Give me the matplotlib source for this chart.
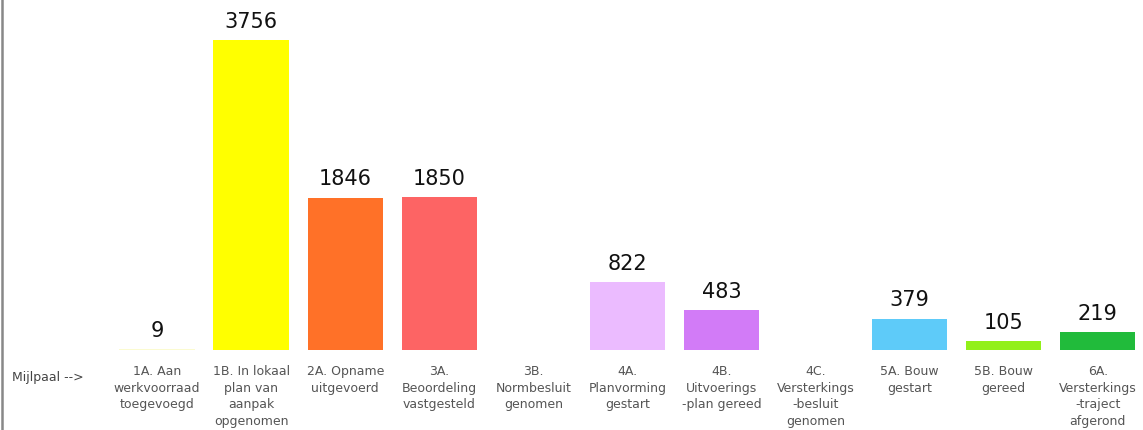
import numpy as np
import matplotlib
matplotlib.use('Agg')
import matplotlib.pyplot as plt
from matplotlib.lines import Line2D

plt.rcParams.update({'font.family': 'DejaVu Sans'})

labels = ['1A. Aan\nwerkvoorraad\ntoegevoegd', '1B. In lokaal\nplan van\naanpak\nopgenomen',
          '2A. Opname\nuitgevoerd', '3A.\nBeoordeling\nvastgesteld', '3B.\nNormbesluit\ngenomen',
          '4A.\nPlanvorming\ngestart', '4B.\nUitvoerings\n-plan gereed',
          '4C.\nVersterkings\n-besluit\ngenomen', '5A. Bouw\ngestart', '5B. Bouw\ngereed',
          '6A.\nVersterkings\n-traject\nafgerond']
values = [9, 3756, 1846, 1850, 0, 822, 483, 0, 379, 105, 219]
colors = ['#fbfbd0', '#ffff00', '#ff7128', '#fd6464', '#ffffff', '#ebbbff', '#d27bf7',
          '#ffffff', '#5ecbf9', '#92f01a', '#21bb3b']

fig = plt.figure(figsize=(11.43, 4.3), dpi=100)
ax = fig.add_axes([110 / 1143, 80 / 430, 1033 / 1143, 350 / 430])

x = np.arange(len(values))
bars = ax.bar(x, values, width=0.8, color=colors)
for xi, v in zip(x, values):
    if v > 0:
        ax.annotate(str(v), (xi, v), xytext=(0, 6), textcoords='offset points',
                    ha='center', va='bottom', fontsize=15, color='#111111')

ax.set_xlim(-0.5, 10.48)
ax.set_ylim(0, 4242)
ax.set_xticks(x)
ax.set_xticklabels(labels, fontsize=9, color='#555555', linespacing=1.35)
ax.tick_params(axis='x', length=0, pad=11)
ax.set_yticks([])
for s in ax.spines.values():
    s.set_visible(False)

fig.text(12 / 1143, 1 - 378 / 430, 'Mijlpaal -->', fontsize=9, color='#444444',
         ha='left', va='center')
fig.add_artist(Line2D([1.5 / 1143, 1.5 / 1143], [0, 1], color='#888888', lw=1.8,
                      transform=fig.transFigure))

fig.savefig('out.png', dpi=100)
